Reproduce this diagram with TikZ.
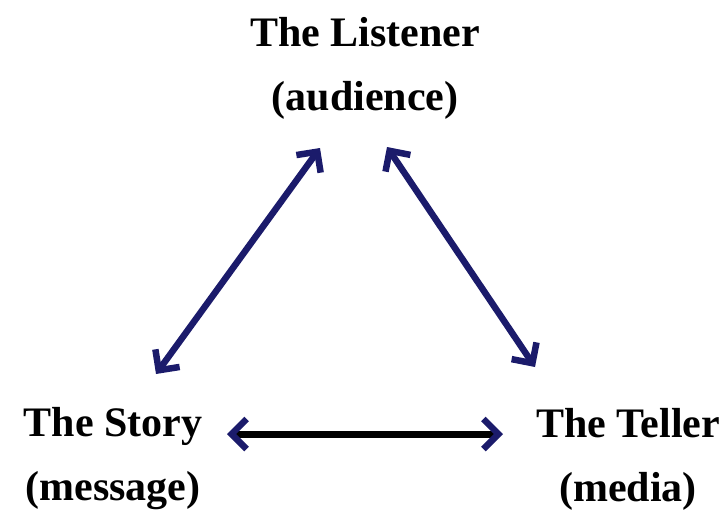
\documentclass[tikz,border=0pt]{standalone}
\usepackage{fontspec}
\setmainfont{Liberation Serif}
\usetikzlibrary{arrows.meta}
\definecolor{navy}{HTML}{1B1B6B}
\tikzset{
  label/.style={font=\bfseries\fontsize{42}{64}\selectfont, align=center, inner sep=0pt},
  barb/.tip={Straight Barb[length=15pt,width=30pt,line width=6.5pt]},
  navybarb/.tip={Straight Barb[length=15pt,width=30pt,line width=6.5pt,color=navy]},
  link/.style={line width=6.5pt, navy, barb-barb},
  flat/.style={line width=7pt, black, navybarb-navybarb}
}
\begin{document}
\begin{tikzpicture}[x=1pt,y=-1pt]
  \useasboundingbox (0,0) rectangle (727,509);
  \node[label] (listener) at (365,68) {The Listener\\(audience)};
  \node[label] (story) at (113,459) {The Story\\(message)};
  \node[label] (teller) at (628,459) {The Teller\\(media)};
  % connector end points
  \coordinate (ls) at (320,148);
  \coordinate (sl) at (156,374);
  \coordinate (lt) at (387,147);
  \coordinate (tl) at (535,367);
  \coordinate (st) at (227,434);
  \coordinate (ts) at (503,434);
  \draw[link] (sl) -- (ls);
  \draw[link] (lt) -- (tl);
  \draw[flat] (st) -- (ts);
\end{tikzpicture}
\end{document}
